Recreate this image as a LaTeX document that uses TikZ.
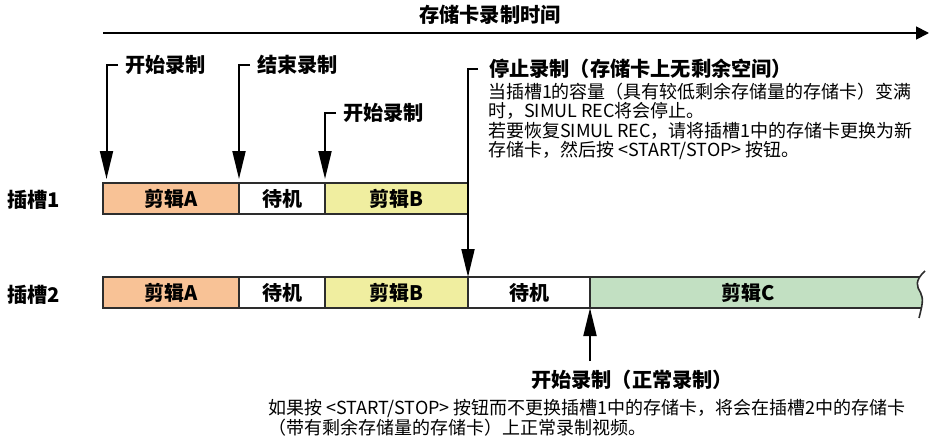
\documentclass[tikz,border=0pt]{standalone}
\usepackage{fontspec}
\setmainfont{Noto Sans CJK SC}
\usetikzlibrary{arrows.meta}
\definecolor{clipA}{RGB}{248,194,150}
\definecolor{clipB}{RGB}{240,238,160}
\definecolor{clipC}{RGB}{194,224,194}
\definecolor{edgegray}{RGB}{45,45,45}
\begin{document}
\begin{tikzpicture}[x=1pt,y=-1pt,
  boldtxt/.style={font=\bfseries\fontsize{20.2}{21}\selectfont, inner sep=0pt, outer sep=0pt},
  bodytxt/.style={font=\fontsize{18}{19.3}\selectfont, inner sep=0pt, outer sep=0pt, align=left},
  cell/.style={draw=edgegray, line width=2pt, minimum height=31pt, inner sep=0pt, outer sep=0pt,
    anchor=north west, font=\bfseries\fontsize{20}{21}\selectfont},
  marker/.style={line width=2pt, -{Triangle[width=13pt,length=28pt]}},
]
\useasboundingbox (0,0) rectangle (931,441);

% time axis
\node[boldtxt] (hdr) at (490,15) {存储卡录制时间};
\coordinate (t0) at (103,33);
\coordinate (t1) at (929,33);
\draw[line width=1.8pt, -{Triangle[width=13pt,length=13pt]}] (t0) -- (t1);

% slot labels
\node[boldtxt, anchor=west] (s1) at (7,200) {插槽1};
\node[boldtxt, anchor=west] (s2) at (7,295) {插槽2};

% slot 1
\node[cell, fill=clipA, minimum width=136pt] (a1) at (103,183) {剪辑A};
\node[cell, fill=white, minimum width=86pt] (w1) at (a1.north east) {待机};
\node[cell, fill=clipB, minimum width=143pt] (b1) at (w1.north east) {剪辑B};

% slot 2
\node[cell, fill=clipA, minimum width=136pt] (a2) at (103,277) {剪辑A};
\node[cell, fill=white, minimum width=86pt] (w2) at (a2.north east) {待机};
\node[cell, fill=clipB, minimum width=143pt] (b2) at (w2.north east) {剪辑B};
\node[cell, fill=white, minimum width=122pt] (w2b) at (b2.north east) {待机};

% clip C with wavy end
\begin{scope}
  \clip (w2b.north east) rectangle (940,308);
  \fill[clipC] (590,268) -- (926,268) -- (925,271) .. controls (914,281) and (917,287) .. (920.5,292.5)
     .. controls (924,299) and (922,306) .. (919,318) -- (590,320) -- cycle;
\end{scope}
\draw[edgegray, line width=2pt] (920,277) -- (w2b.north east) -- (w2b.south east) -- (920.5,308);
\draw[edgegray, line width=1.6pt] (925,271) .. controls (914,281) and (917,287) .. (920.5,292.5)
     .. controls (924,299) and (922,306) .. (919,318);
\node[font=\bfseries\fontsize{20}{21}\selectfont, inner sep=0pt] (lc) at (748,292.5) {剪辑C};

% markers
\node[boldtxt, anchor=west] (m1) at (125,65) {开始录制};
\draw[marker] ([xshift=-7pt]m1.west) -| ([xshift=3.5pt,yshift=4pt]a1.north west);

\node[boldtxt, anchor=west] (m2) at (257,65) {结束录制};
\draw[marker] ([xshift=-7pt]m2.west) -| ([yshift=4pt]w1.north west);

\node[boldtxt, anchor=west] (m3) at (343,113) {开始录制};
\draw[marker] ([xshift=-7pt]m3.west) -| ([yshift=4pt]b1.north west);

\node[boldtxt, anchor=west] (m4) at (489,69) {停止录制（存储卡上无剩余空间）};
\draw[marker] ([xshift=-11pt]m4.west) -| (w2b.north west);

\node[bodytxt, anchor=north west] (d4) at (488,83)
  {当插槽1的容量（具有较低剩余存储量的存储卡）变满\\
   时，SIMUL REC将会停止。\\
   若要恢复SIMUL REC，请将插槽1中的存储卡更换为新\\
   存储卡，然后按 <START/STOP> 按钮。};

\node[boldtxt, anchor=west] (m5) at (531,380) {开始录制（正常录制）};
\coordinate (u5) at (590,361);
\draw[marker] (u5) -- (w2b.south east);

\node[bodytxt, anchor=north west, font=\fontsize{18}{20.5}\selectfont] (d5) at (268,399)
  {如果按 <START/STOP> 按钮而不更换插槽1中的存储卡，将会在插槽2中的存储卡\\
   （带有剩余存储量的存储卡）上正常录制视频。};
\end{tikzpicture}
\end{document}
